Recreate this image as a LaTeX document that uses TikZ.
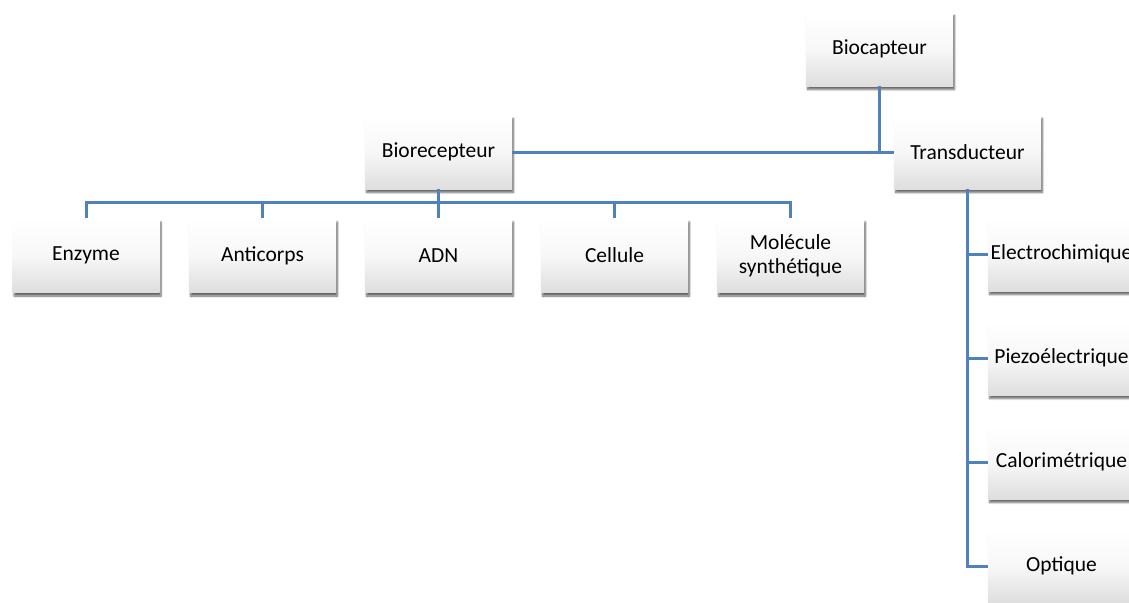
\documentclass[tikz,border=0pt]{standalone}
\usepackage{fontspec}
\setmainfont{Carlito}
\usetikzlibrary{shadows.blur}
\definecolor{linkblue}{HTML}{4F81BD}
\begin{document}
\begin{tikzpicture}[x=1pt,y=-1pt,
  box/.style={minimum width=147pt, minimum height=74pt, inner sep=0pt,
    top color=white, bottom color=black!13, middle color=white!97!black, draw=none,
    blur shadow={shadow xshift=1.5pt, shadow yshift=-3.5pt, shadow blur steps=6, shadow opacity=60},
    font=\fontsize{21.5}{24}\selectfont, align=center},
  conn/.style={draw=linkblue, line width=3pt}]
\useasboundingbox (0,0) rectangle (1129,602);
\clip (0,0) rectangle (1129,602);
\node[box] (bio) at (879.5,49) {Biocapteur};
\node[box] (trans) at (967.5,152) {Transducteur};
\node[box] (rec) at (438.5,152) {Biorecepteur};
\node[box] (enz) at (86,255.5) {Enzyme};
\node[box] (anti) at (262.5,255.5) {Anticorps};
\node[box] (adn) at (438.5,255.5) {ADN};
\node[box] (cel) at (614.5,255.5) {Cellule};
\node[box] (mol) at (790.5,255.5) {Molécule\\synthétique};
\node[box] (ele) at (1061.5,254) {Electrochimique};
\node[box] (pie) at (1061.5,358) {Piezoélectrique};
\node[box] (cal) at (1061.5,462) {Calorimétrique};
\node[box] (opt) at (1061.5,566) {Optique};
\draw[conn] (bio.south) |- (trans.west);
\draw[conn] (rec.east) -- (trans.west);
\draw[conn] (rec.south) -- (adn.north);
\draw[conn] (enz.north) -- ++(0,-16) -| (mol.north);
\foreach \n in {anti,cel} \draw[conn] (\n.north) -- ++(0,-16);
\draw[conn] (trans.south) |- (opt.west);
\foreach \n in {ele,pie,cal} \draw[conn] (\n.west) -- (trans.south |- \n.west);
\end{tikzpicture}
\end{document}
